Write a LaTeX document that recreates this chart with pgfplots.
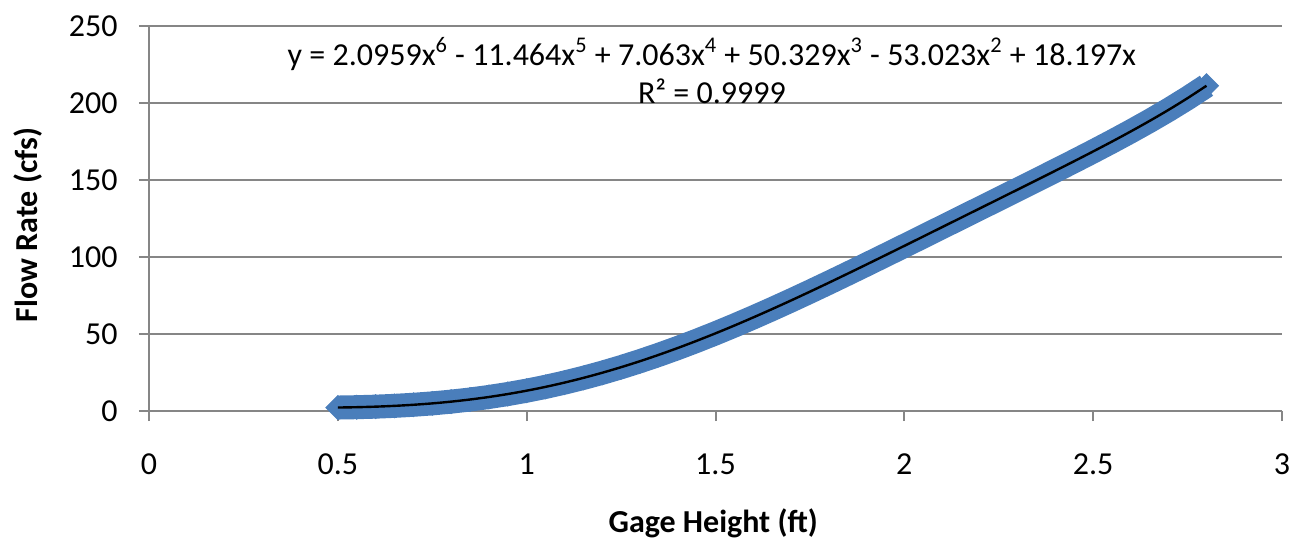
\documentclass[border=0pt]{standalone}
\usepackage{pgfplots}
\pgfplotsset{compat=1.18}
\usepackage{pgfplotstable}
\usepackage{fontspec}
\setmainfont{Carlito}
\definecolor{excelblue}{RGB}{74,126,187}
\definecolor{axisgray}{RGB}{134,134,134}
\pgfplotstableread{
x y
0.50 2.25
0.55 2.47
0.60 2.82
0.65 3.34
0.70 4.04
0.75 4.94
0.80 6.08
0.85 7.46
0.90 9.10
0.95 11.01
1.00 13.20
1.05 15.67
1.10 18.44
1.15 21.49
1.20 24.83
1.25 28.45
1.30 32.34
1.35 36.50
1.40 40.91
1.45 45.56
1.50 50.43
1.55 55.50
1.60 60.77
1.65 66.20
1.70 71.77
1.75 77.48
1.80 83.29
1.85 89.19
1.90 95.16
1.95 101.18
2.00 107.23
2.05 113.31
2.10 119.40
2.15 125.49
2.20 131.58
2.25 137.67
2.30 143.77
2.35 149.89
2.40 156.04
2.45 162.25
2.50 168.55
2.55 174.98
2.60 181.60
2.65 188.45
2.70 195.61
2.75 203.17
2.80 211.20
}\flowdata
\begin{document}
\begin{tikzpicture}[font=\fontsize{16}{19}\selectfont]
\path[use as bounding box] (-74.5pt,-67.5pt) rectangle (572.5pt,205.5pt);
\begin{axis}[
  at={(0,0)}, anchor=south west,
  scale only axis, width=566.5pt, height=192.5pt,
  xmin=0, xmax=3, ymin=0, ymax=250,
  xtick={0,0.5,1,1.5,2,2.5,3},
  xticklabels={0,0.5,1,1.5,2,2.5,3},
  ytick={0,50,100,150,200,250},
  axis x line*=bottom, axis y line*=left,
  axis line style={axisgray, line width=1.2pt, -},
  ymajorgrids, grid style={axisgray, line width=1pt},
  major tick style={axisgray, line width=1pt},
  tick align=outside, major tick length=5pt,
  /pgf/number format/assume math mode=true,
  tick label style={font=\fontsize{16}{19}\selectfont, black},
  xticklabel style={anchor=center, inner sep=0pt, yshift=-21.5pt},
  yticklabel style={anchor=east, inner sep=0pt, xshift=-10.5pt},
  xlabel={\bfseries Gage Height (ft)},
  ylabel={\bfseries Flow Rate (cfs)},
  xlabel style={at={(axis description cs:0.498,-0.292)}, anchor=center, inner sep=0pt, font=\fontsize{16}{19}\selectfont},
  ylabel style={at={(axis description cs:-0.1068,0.483)}, anchor=center, inner sep=0pt, rotate=0, font=\fontsize{16}{19}\selectfont},
  clip=false, clip mode=individual,
]
\addplot[excelblue, line width=12pt, line join=round] table {\flowdata};
\addplot[only marks, mark=square*, mark size=4.25pt, mark options={rotate=45, excelblue}] table {\flowdata};
\addplot[black, line width=1.2pt, smooth] table {\flowdata};
\node[anchor=center, inner sep=0pt] at (axis cs:1.4905,231.8) {y = 2.0959x\textsuperscript{6} - 11.464x\textsuperscript{5} + 7.063x\textsuperscript{4} + 50.329x\textsuperscript{3} - 53.023x\textsuperscript{2} + 18.197x};
\node[anchor=center, inner sep=0pt] at (axis cs:1.4905,207.8) {R² = 0.9999};
\end{axis}
\end{tikzpicture}
\end{document}
